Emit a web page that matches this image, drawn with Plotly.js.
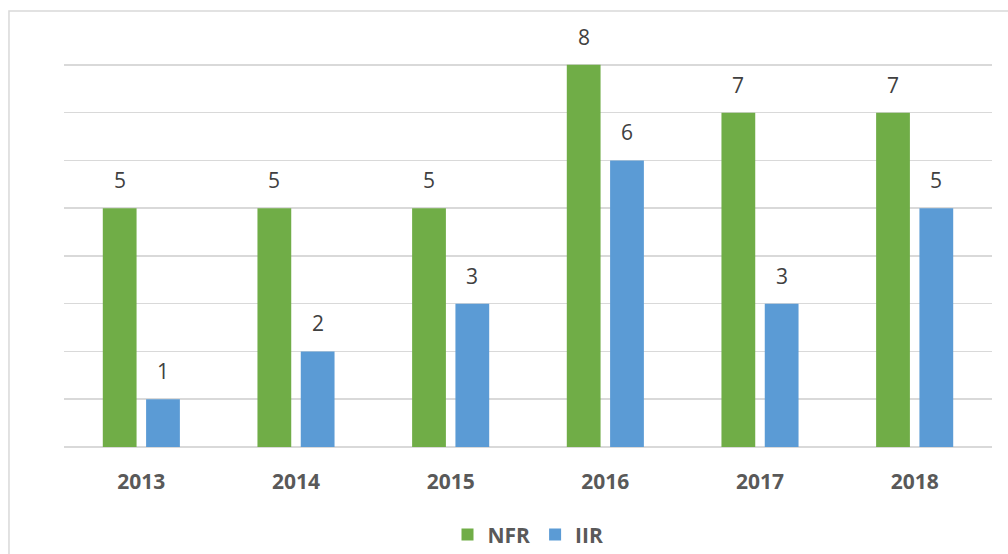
<!DOCTYPE html>
<html><head><meta charset="utf-8">
<script src="https://cdn.plot.ly/plotly-3.0.1.min.js"></script>
<style>html,body{margin:0;padding:0;background:#fff;}#chart{width:1008px;height:554px;}</style>
</head><body><div id="chart"></div>
<script>
const years = ['2013','2014','2015','2016','2017','2018'];
const nfr = [5,5,5,8,7,7];
const iir = [1,2,3,6,3,5];
const seriesNames = ['NFR','IIR'];
const colors = ['#70ad47','#5b9bd5'];
const tickVals = [0,1,2,3,4,5,6,7,8];

const font = 'Open Sans, Liberation Sans, Arial, sans-serif';
const traces = [nfr, iir].map((vals,i)=>({
  type:'bar', name:seriesNames[i], x:years, y:vals,
  marker:{color:colors[i]}, hoverinfo:'none'
}));
const annotations = [];
[nfr, iir].forEach((vals,i)=>{
  vals.forEach((v,j)=>{
    annotations.push({x:j, y:v, xref:'x', yref:'y', text:String(v), showarrow:false,
      xshift:(i===0?-21.75:21.75), yanchor:'bottom', yshift:12,
      font:{family:font, size:21, color:'#404040'}});
  });
});
const layout = {
  width:1008, height:554,
  margin:{l:64, r:16, t:62, b:107, autoexpand:false},
  paper_bgcolor:'#fff', plot_bgcolor:'#fff',
  barmode:'group', bargap:0.44, bargroupgap:0.22,
  xaxis:{type:'category', range:[-0.5,5.5], autorange:false, automargin:false, showgrid:false, zeroline:false, showline:false, ticks:'',
    tickfont:{family:font, size:21, color:'#595959', weight:'bold'}, ticklen:0, ticklabelstandoff:20},
  yaxis:{range:[0,8.06], autorange:false, automargin:false, tickvals:tickVals, showticklabels:false, showgrid:true,
    gridcolor:'#d9d9d9', gridwidth:1.5, zeroline:true, zerolinecolor:'#d9d9d9', zerolinewidth:1.5, fixedrange:true},
  showlegend:true,
  legend:{orientation:'h', x:0.5, xanchor:'center', y:-0.175, yanchor:'top',
    font:{family:font, size:21, color:'#595959', weight:'bold'}, traceorder:'normal'},
  annotations:annotations,
  shapes:[{type:'rect', xref:'paper', yref:'paper', x0:-0.0593, x1:1.2, y0:-0.4, y1:1.1325,
    line:{color:'#d9d9d9', width:1.5}, layer:'below'}]
};
Plotly.newPlot('chart', traces, layout, {staticPlot:true});
</script></body></html>
